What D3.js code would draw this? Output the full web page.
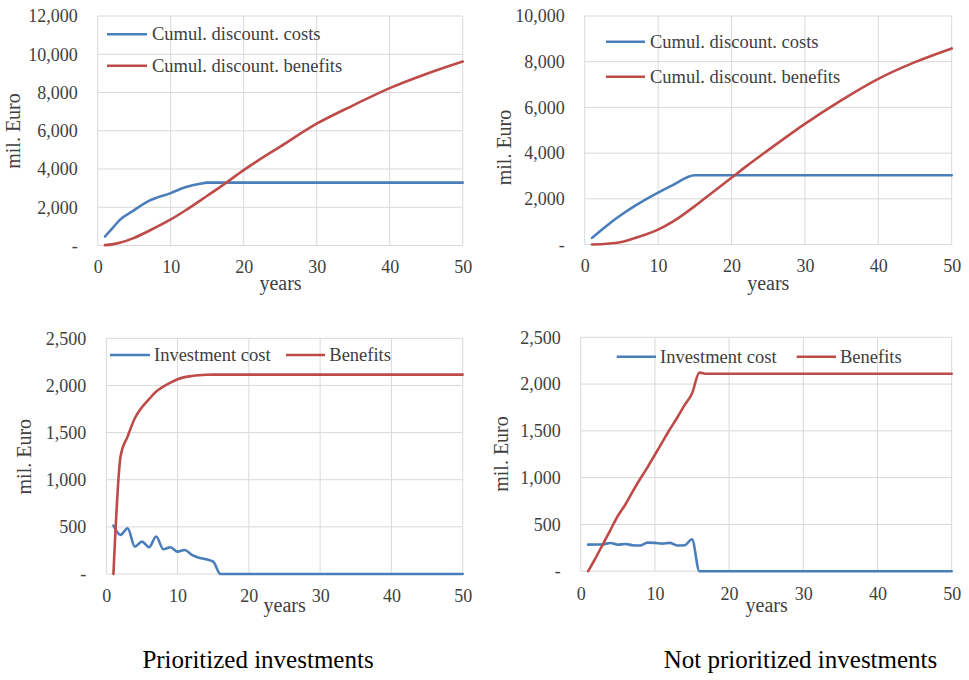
<!DOCTYPE html>
<html>
<head>
<meta charset="utf-8">
<script src="https://cdn.jsdelivr.net/npm/d3@7"></script>
<style>
  html, body { margin: 0; padding: 0; background: #ffffff; }
  svg { display: block; }
  svg text { font-family: 'Liberation Serif', 'Times New Roman', Times, 'DejaVu Serif', serif !important; }
</style>
</head>
<body>
<svg id="chart" width="969" height="680"></svg>
<script>
// ---------------- DATA ----------------
// Prioritized investments: cumulative discounted values (mil. Euro)
const pCumCostYears   = [1, 2, 3, 5, 7, 10, 12, 14, 15, 20, 30, 40, 50];
const pCumCostValues  = [470, 900, 1330, 1850, 2330, 2740, 3040, 3230, 3285, 3285, 3285, 3285, 3285];
const pCumBenYears    = [1, 2, 3, 5, 7, 10, 12, 15, 17, 20, 22, 25, 30, 35, 40, 45, 50];
const pCumBenValues   = [20, 60, 140, 400, 760, 1360, 1830, 2600, 3120, 3940, 4450, 5170, 6370, 7330, 8230, 8970, 9620];

// Not prioritized investments: cumulative discounted values
const nCumCostYears   = [1, 2, 3, 4, 5, 7, 10, 12, 15, 20, 30, 40, 50];
const nCumCostValues  = [290, 560, 820, 1070, 1300, 1720, 2270, 2600, 3030, 3030, 3030, 3030, 3030];
const nCumBenYears    = [1, 3, 5, 7, 10, 12, 15, 17, 20, 22, 25, 30, 35, 40, 45, 50];
const nCumBenValues   = [0, 30, 110, 300, 650, 1000, 1680, 2180, 2920, 3420, 4130, 5280, 6320, 7250, 7980, 8580];

// Prioritized investments: yearly values
const pInvYears   = [1, 2, 3, 4, 5, 6, 7, 8, 9, 10, 11, 12, 13, 14, 15, 16, 17, 20, 30, 40, 50];
const pInvValues  = [513, 415, 486, 290, 343, 284, 397, 263, 284, 237, 255, 202, 173, 156, 131, 0, 0, 0, 0, 0, 0];
const pBenYears   = [1, 2, 3, 4, 5, 6, 7, 8, 9, 10, 11, 12, 13, 14, 15, 20, 30, 40, 50];
const pBenValues  = [0, 1246, 1460, 1652, 1769, 1854, 1935, 1988, 2030, 2066, 2088, 2100, 2108, 2113, 2115, 2115, 2115, 2115, 2115];

// Not prioritized investments: yearly values
const nInvYears   = [1, 2, 3, 4, 5, 6, 7, 8, 9, 10, 11, 12, 13, 14, 15, 16, 17, 20, 30, 40, 50];
const nInvValues  = [284, 285, 288, 302, 283, 290, 278, 275, 305, 303, 295, 303, 275, 277, 342, 0, 0, 0, 0, 0, 0];
const nBenYears   = [1, 2, 3, 4, 5, 6, 7, 8, 9, 10, 11, 12, 13, 14, 15, 16, 17, 20, 30, 40, 50];
const nBenValues  = [0, 140, 290, 440, 590, 710, 850, 985, 1110, 1245, 1380, 1515, 1640, 1775, 1900, 2122, 2110, 2110, 2110, 2110, 2110];

// Tick labels
const xTicks = [0, 10, 20, 30, 40, 50];
const yTicksCum12 = [0, 2000, 4000, 6000, 8000, 10000, 12000];
const yTicksCum10 = [0, 2000, 4000, 6000, 8000, 10000];
const yTicksYear  = [0, 500, 1000, 1500, 2000, 2500];

const legendCum  = ["Cumul. discount. costs", "Cumul. discount. benefits"];
const legendYear = ["Investment cost", "Benefits"];
const captions   = ["Prioritized investments", "Not prioritized investments"];
const axisYTitle = "mil. Euro";
const axisXTitle = "years";

// ---------------- STYLE ----------------
const BLUE = "#4a7ebb";
const RED  = "#be4b48";
const GRID = "#d9d9d9";
const TXT  = "#404040";
const FONT = "'Liberation Serif', 'Times New Roman', Times, 'DejaVu Serif', serif";

const svg = d3.select("#chart");

function fmt(v) { return v === 0 ? "-" : d3.format(",")(v); }

const panels = [
  { box: {l: 97.7, r: 462.7, t: 16, b: 245.5}, yMax: 12000, yTicks: yTicksCum12,
    series: [{x: pCumCostYears, y: pCumCostValues, c: BLUE}, {x: pCumBenYears, y: pCumBenValues, c: RED}],
    legend: {type: "col", names: legendCum, x1: 107, x2: 147, tx: 152, ys: [34.3, 65.7]},
    yTitle: {x: 13, y: 131}, xTitle: {x: 280.5, y: 290}, xLabY: 273 },
  { box: {l: 584.7, r: 951.7, t: 16, b: 244.5}, yMax: 10000, yTicks: yTicksCum10,
    series: [{x: nCumCostYears, y: nCumCostValues, c: BLUE}, {x: nCumBenYears, y: nCumBenValues, c: RED}],
    legend: {type: "col", names: legendCum, x1: 606, x2: 645, tx: 650, ys: [41.7, 76.7]},
    yTitle: {x: 503.5, y: 147.5}, xTitle: {x: 768.3, y: 290}, xLabY: 272 },
  { box: {l: 106.3, r: 462.7, t: 338.3, b: 574}, yMax: 2500, yTicks: yTicksYear,
    series: [{x: pInvYears, y: pInvValues, c: BLUE}, {x: pBenYears, y: pBenValues, c: RED}],
    legend: {type: "row", names: legendYear, items: [{x1: 110, x2: 150, tx: 154}, {x1: 286, x2: 325, tx: 329.3}], y: 355},
    yTitle: {x: 23.5, y: 456.7}, xTitle: {x: 284.7, y: 612}, xLabY: 602 },
  { box: {l: 580.7, r: 951.7, t: 337.3, b: 571.2}, yMax: 2500, yTicks: yTicksYear,
    series: [{x: nInvYears, y: nInvValues, c: BLUE}, {x: nBenYears, y: nBenValues, c: RED}],
    legend: {type: "row", names: legendYear, items: [{x1: 616.7, x2: 656, tx: 660}, {x1: 796.7, x2: 836, tx: 840}], y: 356.7},
    yTitle: {x: 501, y: 454}, xTitle: {x: 766.7, y: 612}, xLabY: 599.5 }
];

panels.forEach(p => {
  const g = svg.append("g");
  const x = d3.scaleLinear().domain([0, 50]).range([p.box.l, p.box.r]);
  const y = d3.scaleLinear().domain([0, p.yMax]).range([p.box.b, p.box.t]);

  g.append("g").selectAll("line").data(p.yTicks).join("line")
    .attr("x1", p.box.l).attr("x2", p.box.r)
    .attr("y1", d => y(d)).attr("y2", d => y(d))
    .attr("stroke", GRID).attr("stroke-width", 1);
  g.append("g").selectAll("line").data(xTicks).join("line")
    .attr("x1", d => x(d)).attr("x2", d => x(d))
    .attr("y1", p.box.t).attr("y2", p.box.b)
    .attr("stroke", GRID).attr("stroke-width", 1);

  const yAxis = d3.axisLeft(y).tickValues(p.yTicks).tickFormat(fmt).tickSize(0).tickPadding(20);
  const ya = g.append("g").attr("transform", `translate(${p.box.l},0)`).call(yAxis)
    .attr("font-family", FONT);
  ya.select(".domain").remove();
  ya.selectAll("text").attr("font-size", 18).attr("fill", TXT).style("font-family", FONT);

  const xAxis = d3.axisBottom(x).tickValues(xTicks).tickFormat(d3.format("d")).tickSize(0).tickPadding(0);
  const xa = g.append("g").attr("transform", `translate(0,${p.xLabY})`).call(xAxis)
    .attr("font-family", FONT);
  xa.select(".domain").remove();
  xa.selectAll("text").attr("dy", 0).attr("y", 0).attr("font-size", 18).attr("fill", TXT).style("font-family", FONT);

  const line = d3.line().x(d => x(d[0])).y(d => y(d[1])).curve(d3.curveMonotoneX);
  p.series.forEach(s => {
    const pts = s.x.map((xv, i) => [xv, s.y[i]]);
    g.append("path").datum(pts).attr("d", line)
      .attr("fill", "none").attr("stroke", s.c).attr("stroke-width", 2.6)
      .attr("stroke-linejoin", "round").attr("stroke-linecap", "round");
  });

  const cols = [BLUE, RED];
  const items = p.legend.type === "col"
    ? p.legend.names.map((n, i) => ({n, x1: p.legend.x1, x2: p.legend.x2, tx: p.legend.tx, y: p.legend.ys[i]}))
    : p.legend.names.map((n, i) => ({n, x1: p.legend.items[i].x1, x2: p.legend.items[i].x2, tx: p.legend.items[i].tx, y: p.legend.y}));
  items.forEach((it, i) => {
    g.append("line").attr("x1", it.x1).attr("x2", it.x2)
      .attr("y1", it.y).attr("y2", it.y).attr("stroke", cols[i]).attr("stroke-width", 2.6);
    g.append("text").attr("x", it.tx).attr("y", it.y + 6)
      .attr("font-size", 18.5).attr("fill", TXT).style("font-family", FONT).text(it.n);
  });

  g.append("text").attr("transform", `translate(${p.yTitle.x},${p.yTitle.y}) rotate(-90)`)
    .attr("text-anchor", "middle").attr("dy", "0.35em")
    .attr("font-size", 20).attr("fill", TXT).style("font-family", FONT).text(axisYTitle);
  g.append("text").attr("x", p.xTitle.x).attr("y", p.xTitle.y)
    .attr("text-anchor", "middle").attr("font-size", 20).attr("fill", TXT).style("font-family", FONT).text(axisXTitle);
});

svg.append("text").attr("x", 258).attr("y", 668).attr("text-anchor", "middle")
  .attr("font-size", 25).attr("fill", "#000").style("font-family", FONT).text(captions[0]);
svg.append("text").attr("x", 800.5).attr("y", 668).attr("text-anchor", "middle")
  .attr("font-size", 25).attr("fill", "#000").style("font-family", FONT).text(captions[1]);
</script>
</body>
</html>
